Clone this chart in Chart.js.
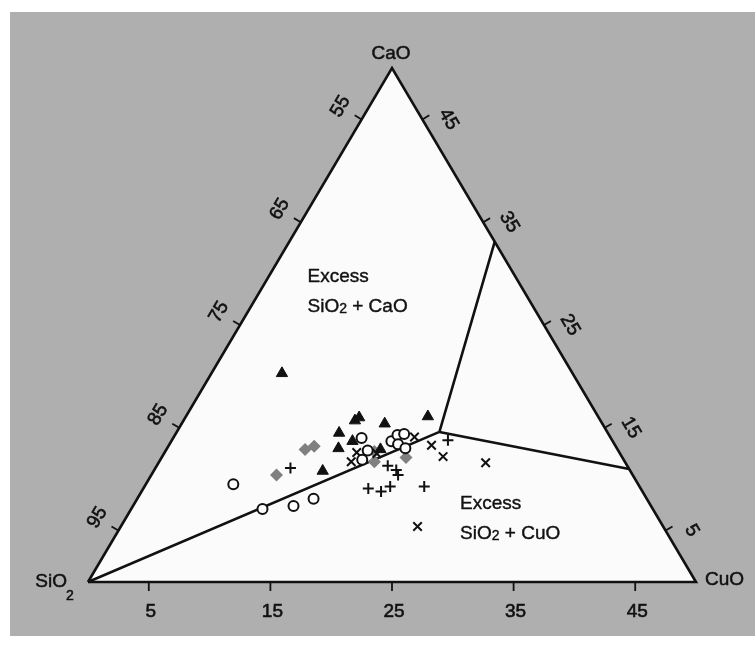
<!DOCTYPE html>
<html>
<head>
<meta charset="utf-8">
<script src="https://cdn.jsdelivr.net/npm/chart.js@4"></script>
<style>
  html, body { margin: 0; padding: 0; background: #fff; }
  canvas { display: block; }
</style>
</head>
<body>
<canvas id="ternary" width="755" height="646"></canvas>
<script>
// ternary values in %: CuO and CaO (SiO2 makes up the rest)
const triCuO = [5.8, 14.1, 14.3, 16.7, 19.9, 13.4, 14.9, 14.1, 17.6, 13.9];
const triCaO = [20.3, 15.7, 16.0, 15.4, 16.1, 14.5, 13.7, 13.0, 12.9, 10.8];

const circCuO = [7.2, 10.8, 13.2, 14.5, 15.5, 16.6, 16.6, 18.1, 18.3, 18.8, 18.8, 19.6];
const circCaO = [9.5, 7.1, 7.4, 8.1, 14.0, 12.8, 11.9, 13.7, 14.3, 14.4, 13.4, 13.0];

const diaCuO = [10.3, 11.4, 12.0, 17.7, 17.2, 20.1];
const diaCaO = [10.4, 12.9, 13.2, 11.7, 12.7, 12.1];

const plusCuO = [11.1, 19.0, 19.9, 20.3, 18.5, 19.7, 20.2, 23.0, 22.7];
const plusCaO = [11.1, 11.3, 10.9, 10.4, 9.1, 8.8, 9.3, 9.3, 13.8];

const crossCuO = [15.8, 15.8, 17.5, 19.8, 21.6, 23.1, 26.9, 24.4];
const crossCaO = [11.7, 12.6, 12.5, 14.1, 13.3, 12.2, 11.6, 5.4];

// field boundaries: triple point and the ends on the CaO-CuO side
const boundCuO = [0, 21.6, 16.9];
const boundCaO = [0, 14.6, 33.1];
const bound2CuO = [21.6, 39.0];
const bound2CaO = [14.6, 11.0];

const tickValues = [5, 15, 25, 35, 45];
const bottomLabels = ["5", "15", "25", "35", "45"];
const leftLabels = ["95", "85", "75", "65", "55"];
const rightLabels = ["5", "15", "25", "35", "45"];

const FONT = "'Liberation Sans', Arial, sans-serif";

// the diagram spans 0-50 % CuO and 0-50 % CaO
function toXY(cuo, cao) {
  return { x: cuo + cao / 2, y: cao };
}
function pts(cs, as) {
  return cs.map((c, i) => toXY(c, as[i]));
}

function px(chart, cuo, cao) {
  const p = toXY(cuo, cao);
  return { x: chart.scales.x.getPixelForValue(p.x), y: chart.scales.y.getPixelForValue(p.y) };
}

// print-like text: fill plus a thin stroke
function ink(ctx, t, x, y) {
  ctx.fillText(t, x, y);
  ctx.strokeText(t, x, y);
}

function drawFormula(ctx, parts, x, y) {
  let cx = x;
  parts.forEach(p => {
    ctx.font = p.size + "px " + FONT;
    ink(ctx, p.t, cx, y + (p.dy || 0));
    cx += ctx.measureText(p.t).width;
  });
}

const frame = {
  id: "frame",
  beforeDraw(chart) {
    const c = chart.ctx;
    c.save();
    c.fillStyle = "#ffffff";
    c.fillRect(0, 0, chart.width, chart.height);
    c.fillStyle = "#afafaf";
    c.fillRect(10, 12, chart.width - 10, 624);
    const v = [px(chart, 0, 0), px(chart, 50, 0), px(chart, 0, 50)];
    c.beginPath();
    c.moveTo(v[0].x, v[0].y);
    c.lineTo(v[1].x, v[1].y);
    c.lineTo(v[2].x, v[2].y);
    c.closePath();
    c.fillStyle = "#fbfbfb";
    c.fill();
    c.restore();
  },
  afterDatasetsDraw(chart) {
    const c = chart.ctx;
    const s = px(chart, 0, 0), r = px(chart, 50, 0), t = px(chart, 0, 50);
    const len = (v) => Math.hypot(v.x, v.y);
    const dl = { x: t.x - s.x, y: t.y - s.y }, ll = len(dl);
    const nl = { x: dl.y / ll, y: -dl.x / ll };
    const dr = { x: t.x - r.x, y: t.y - r.y }, lr = len(dr);
    const nr = { x: -dr.y / lr, y: dr.x / lr };
    const angL = Math.atan2(dl.y, dl.x);
    const angR = Math.atan2(-dr.y, -dr.x);

    c.save();
    c.strokeStyle = "#111";
    c.fillStyle = "#111";
    c.textAlign = "center";
    c.textBaseline = "middle";
    c.font = "19px " + FONT;
    tickValues.forEach((v, i) => {
      c.lineWidth = 1.8;
      // bottom: CuO
      let p = px(chart, v, 0);
      c.beginPath(); c.moveTo(p.x, p.y); c.lineTo(p.x, p.y + 9); c.stroke();
      // left: SiO2
      const q = px(chart, 0, v);
      c.beginPath(); c.moveTo(q.x, q.y); c.lineTo(q.x + nl.x * 8, q.y + nl.y * 8); c.stroke();
      // right: CaO
      const w = px(chart, 50 - v, v);
      c.beginPath(); c.moveTo(w.x, w.y); c.lineTo(w.x + nr.x * 8, w.y + nr.y * 8); c.stroke();

      c.lineWidth = 0.6;
      ink(c, bottomLabels[i], p.x + 2, p.y + 30);
      c.save();
      c.translate(q.x - 21, q.y - 13);
      c.rotate(angL);
      ink(c, leftLabels[i], 0, 0);
      c.restore();
      c.save();
      c.translate(w.x + 26, w.y);
      c.rotate(angR);
      ink(c, rightLabels[i], 0, 0);
      c.restore();
    });

    // corner names
    c.lineWidth = 0.5;
    c.font = "19px " + FONT;
    c.textAlign = "center";
    ink(c, "CaO", t.x - 1, t.y - 14);
    c.textAlign = "left";
    ink(c, "CuO", r.x + 9, r.y - 2);
    c.textAlign = "right";
    ink(c, "SiO", s.x - 21, s.y);
    c.font = "14px " + FONT;
    c.textAlign = "left";
    ink(c, "2", s.x - 22, s.y + 14);

    // field names
    c.textAlign = "left";
    c.textBaseline = "middle";
    c.lineWidth = 0.4;
    const up = px(chart, 3.2, 29.7);
    c.font = "19px " + FONT;
    ink(c, "Excess", up.x, up.y);
    drawFormula(c, [{ t: "SiO", size: 19 }, { t: "2", size: 14, dy: 2 }, { t: " + CaO", size: 19 }], up.x, up.y + 30);
    const lo = px(chart, 26.8, 7.6);
    c.font = "19px " + FONT;
    ink(c, "Excess", lo.x, lo.y);
    drawFormula(c, [{ t: "SiO", size: 19 }, { t: "2", size: 14, dy: 2 }, { t: " + CuO", size: 19 }], lo.x, lo.y + 30);
    c.restore();
  }
};

const lineSet = (data) => ({
  data: data,
  showLine: true,
  borderColor: "#111",
  borderWidth: 2.6,
  pointRadius: 0,
  fill: false,
  clip: false,
  order: 10
});

new Chart(document.getElementById("ternary"), {
  type: "scatter",
  data: {
    datasets: [
      lineSet([toXY(0, 0), toXY(50, 0), toXY(0, 50), toXY(0, 0)]),
      lineSet(pts(boundCuO, boundCaO)),
      lineSet(pts(bound2CuO, bound2CaO)),
      {
        label: "diamond",
        data: pts(diaCuO, diaCaO),
        pointStyle: "rectRot",
        pointRadius: 6.5,
        backgroundColor: "#808080",
        borderColor: "#808080",
        borderWidth: 0,
        order: 5
      },
      {
        label: "plus",
        data: pts(plusCuO, plusCaO),
        pointStyle: "cross",
        pointRadius: 5.5,
        borderColor: "#111",
        borderWidth: 2,
        order: 4
      },
      {
        label: "cross",
        data: pts(crossCuO, crossCaO),
        pointStyle: "crossRot",
        pointRadius: 6,
        borderColor: "#111",
        borderWidth: 2,
        order: 3
      },
      {
        label: "circle",
        data: pts(circCuO, circCaO),
        pointStyle: "circle",
        pointRadius: 5,
        backgroundColor: "#fff",
        borderColor: "#111",
        borderWidth: 2,
        order: 2
      },
      {
        label: "triangle",
        data: pts(triCuO, triCaO),
        pointStyle: "triangle",
        pointRadius: 6.5,
        backgroundColor: "#111",
        borderColor: "#111",
        borderWidth: 1,
        order: 1
      }
    ]
  },
  options: {
    responsive: false,
    animation: false,
    layout: { padding: { left: 88, right: 59, top: 68, bottom: 64 } },
    scales: {
      x: { type: "linear", min: 0, max: 50, display: false },
      y: { type: "linear", min: 0, max: 50, display: false }
    },
    plugins: {
      legend: { display: false },
      tooltip: { enabled: false }
    }
  },
  plugins: [frame]
});
</script>
</body>
</html>
